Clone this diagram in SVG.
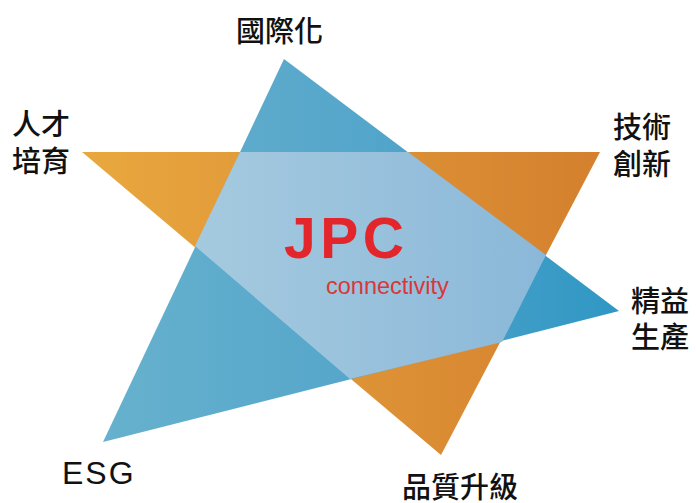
<svg xmlns="http://www.w3.org/2000/svg" width="696" height="503" viewBox="0 0 696 503">
<defs>
<linearGradient id="gOrange" x1="82" y1="0" x2="600" y2="0" gradientUnits="userSpaceOnUse">
<stop offset="0" stop-color="#E9A83F"/>
<stop offset="1" stop-color="#D4802E"/>
</linearGradient>
<linearGradient id="gBlue" x1="103" y1="0" x2="619" y2="0" gradientUnits="userSpaceOnUse">
<stop offset="0" stop-color="#66B1CD"/>
<stop offset="0.5" stop-color="#55A6CB"/>
<stop offset="1" stop-color="#2F97C4"/>
</linearGradient>
<linearGradient id="gMid" x1="195" y1="0" x2="546" y2="0" gradientUnits="userSpaceOnUse">
<stop offset="0" stop-color="#A5CADF"/>
<stop offset="1" stop-color="#8BB8D9"/>
</linearGradient>
<style>
.cjk{font-family:"Noto Sans CJK TC","Noto Sans CJK SC",sans-serif;font-size:29px;font-weight:500;fill:#111;}
.lat{font-family:"Liberation Sans",Arial,sans-serif;fill:#111;}
</style>
</defs>
<rect width="696" height="503" fill="#FFFFFF"/>
<g id="shapes">
<polygon id="orange-triangle" points="82,152 600,152 441,455" fill="url(#gOrange)"/>
<polygon id="blue-triangle" points="284,59 103,442 619,311" fill="url(#gBlue)"/>
<polygon id="overlap" points="240,152 408,152 546,255 502,342 350,379 195,246" fill="url(#gMid)"/>
</g>
<g id="center">
<text x="284" y="258" font-family="Liberation Sans,Arial,sans-serif" font-weight="bold" font-size="57" letter-spacing="4.5" fill="#E3262B">JPC</text>
<text x="326" y="294" font-family="Liberation Sans,Arial,sans-serif" font-size="23.5" fill="#D9373A">connectivity</text>
</g>
<g id="label-international"><text class="cjk" x="236" y="42" font-size="32">國際化</text></g>
<g id="label-talent"><text class="cjk" x="12" y="135">人才</text><text class="cjk" x="12" y="172">培育</text></g>
<g id="label-tech"><text class="cjk" x="613" y="138">技術</text><text class="cjk" x="613" y="175">創新</text></g>
<g id="label-lean"><text class="cjk" x="631" y="312" font-size="30">精益</text><text class="cjk" x="631" y="348" font-size="30">生產</text></g>
<g id="label-esg"><text class="lat" x="62" y="484" font-size="32" letter-spacing="2">ESG</text></g>
<g id="label-quality"><text class="cjk" x="402" y="498" font-size="31">品質升級</text></g>
</svg>
